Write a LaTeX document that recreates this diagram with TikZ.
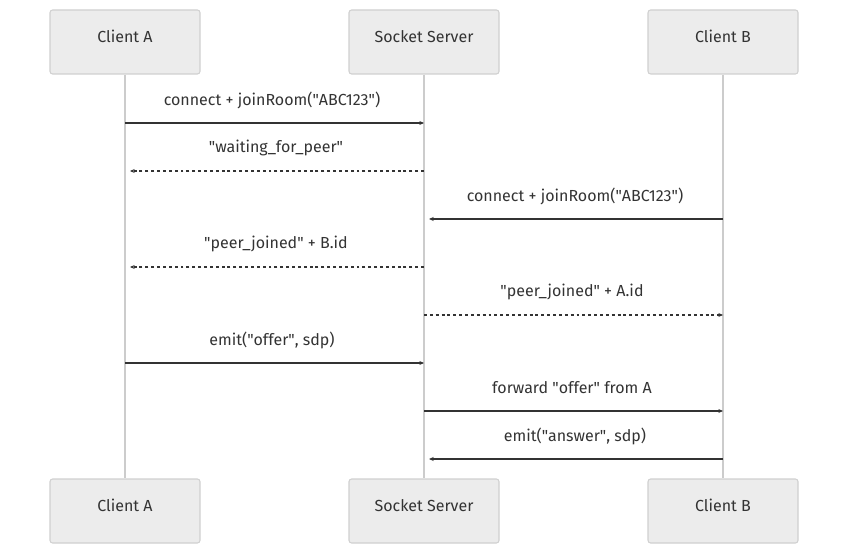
\documentclass[tikz,border=0pt]{standalone}
\usepackage{fontspec}
\setmainfont{Fira Sans}
\usetikzlibrary{arrows.meta}

\definecolor{boxfill}{HTML}{ECECEC}
\definecolor{boxline}{HTML}{D0D0D0}
\definecolor{lifeline}{HTML}{CCCCCC}
\definecolor{ink}{HTML}{333333}
\newcommand{\qq}{\textquotedbl}

\begin{document}
\begin{tikzpicture}[x=0.75pt, y=-0.75pt,
        actor/.style={draw=boxline, fill=boxfill, rounded corners=2pt, line width=0.8pt,
            minimum width=112.5pt, minimum height=48pt, text height=9pt, text depth=8.5pt,
            text=ink, font=\fontsize{12}{14}\selectfont},
        life/.style={draw=lifeline, line width=1.1pt},
        msg/.style={draw=ink, line width=1.1pt, -{Stealth[length=3.5pt, width=3pt]}},
        reply/.style={msg, dash pattern=on 2.2pt off 2.2pt},
        lbl/.style={text=ink, font=\fontsize{12}{14}\selectfont, inner sep=0pt}]
        \useasboundingbox (0,0) rectangle (848,555);
        % actors, top and bottom
        \node [actor] (clientA) at (125,42) {Client A};
        \node [actor] (server) at (424,42) {Socket Server};
        \node [actor] (clientB) at (723,42) {Client B};
        \node [actor] (clientAbot) at (125,511) {Client A};
        \node [actor] (serverbot) at (424,511) {Socket Server};
        \node [actor] (clientBbot) at (723,511) {Client B};
        % lifelines
        \draw [life] (clientA) -- (clientAbot);
        \draw [life] (server) -- (serverbot);
        \draw [life] (clientB) -- (clientBbot);
        % message points
        \coordinate (a1) at (125,123); \coordinate (s1) at (424,123);
        \coordinate (a2) at (130,171); \coordinate (s2) at (424,171);
        \coordinate (s3) at (429,219); \coordinate (b3) at (723,219);
        \coordinate (a4) at (130,267); \coordinate (s4) at (424,267);
        \coordinate (s5) at (424,315); \coordinate (b5) at (723,315);
        \coordinate (a6) at (125,363); \coordinate (s6) at (424,363);
        \coordinate (s7) at (424,411); \coordinate (b7) at (723,411);
        \coordinate (s8) at (429,459); \coordinate (b8) at (723,459);
        % messages
        \draw [msg] (a1) -- (s1);
        \node [lbl] (m1) at (272,100) {connect + joinRoom(\qq ABC123\qq)};
        \draw [reply] (s2) -- (a2);
        \node [lbl] (m2) at (276,148) {\qq waiting\_for\_peer\qq};
        \draw [msg] (b3) -- (s3);
        \node [lbl] (m3) at (575,196) {connect + joinRoom(\qq ABC123\qq)};
        \draw [reply] (s4) -- (a4);
        \node [lbl] (m4) at (276,244) {\qq peer\_joined\qq{} + B.id};
        \draw [reply] (s5) -- (b5);
        \node [lbl] (m5) at (572,292) {\qq peer\_joined\qq{} + A.id};
        \draw [msg] (a6) -- (s6);
        \node [lbl] (m6) at (272,340) {emit(\qq offer\qq, sdp)};
        \draw [msg] (s7) -- (b7);
        \node [lbl] (m7) at (572,388) {forward \qq offer\qq{} from A};
        \draw [msg] (b8) -- (s8);
        \node [lbl] (m8) at (575,436) {emit(\qq answer\qq, sdp)};
\end{tikzpicture}
\end{document}
